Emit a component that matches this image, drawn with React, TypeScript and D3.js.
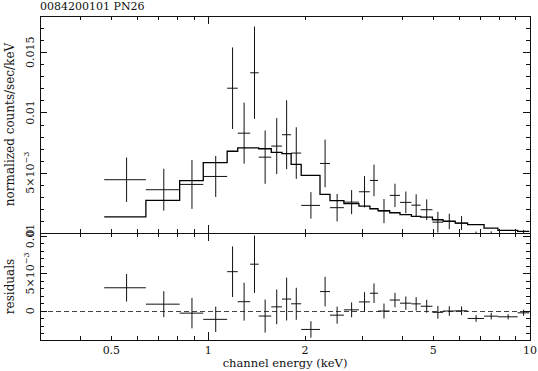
import React from 'react';
import * as d3 from 'd3';

// spectrum bins (keV)
const binEdges = [
  0.475, 0.64, 0.815, 0.965, 1.145, 1.235, 1.35, 1.435, 1.57, 1.695, 1.81, 1.945, 2.225, 2.39,
  2.64, 2.94, 3.18, 3.37, 3.665, 3.945, 4.28, 4.575, 4.975, 5.37, 5.855, 6.4, 7.2, 7.95, 9.155, 9.95,
];
const counts = [
  0.00442, 0.00359, 0.00403, 0.00469, 0.01201, 0.00828, 0.01329, 0.00629, 0.00721, 0.00815,
  0.00663, 0.00229, 0.00577, 0.0021, 0.00256, 0.00342, 0.00436, 0.00182, 0.00312, 0.00254,
  0.00231, 0.00193, 0.0009, 0.00096, 0.00082, -0.00033, -0.0003, -0.00058, -0.00014,
];
const countErrors = [
  0.00184, 0.00174, 0.00203, 0.0017, 0.00338, 0.00253, 0.00383, 0.00221, 0.00232, 0.00286,
  0.00214, 0.0011, 0.00198, 0.00114, 0.001, 0.0013, 0.00131, 0.001, 0.00097, 0.0009,
  0.0009, 0.00086, 0.00086, 0.00064, 0.00058, 0.00045, 0.00044, 0.00035, 0.0004,
];
const model = [
  0.00134, 0.0027, 0.00434, 0.00583, 0.00678, 0.00706, 0.00706, 0.00699, 0.00668, 0.00658,
  0.00569, 0.00478, 0.0032, 0.00268, 0.00243, 0.00223, 0.00201, 0.00185, 0.00168, 0.00152,
  0.00138, 0.00132, 0.0011, 0.00099, 0.00082, 0.00069, 0.00041, 0.00022, 0.00013,
];

const xMinor = [0.3, 0.4, 0.5, 0.6, 0.7, 0.8, 0.9, 2, 3, 4, 5, 6, 7, 8, 9];
const xMajor = [1, 10];
const xLabels = [0.5, 1, 2, 5, 10];

const FONT = 'DejaVu Serif';
const INK = '#111';

const left = 40, right = 530, top = 16, mid = 233, bottom = 340;

const x = d3.scaleLog().domain([0.3, 10]).range([left, right]);
const yTop = d3.scaleLinear().domain([0, 0.018]).range([mid, top]);
const yRes = d3.scaleLinear().domain([-0.0039, 0.0104]).range([bottom, mid]);

const bins = counts.map((c, i) => ({
  lo: binEdges[i],
  hi: binEdges[i + 1],
  e: (binEdges[i] + binEdges[i + 1]) / 2,
  c,
  err: countErrors[i],
  m: model[i],
  r: c - model[i],
}));

const Crosses = ({ y, key2 }: { y: d3.ScaleLinear<number, number>; key2: 'c' | 'r' }) => (
  <g stroke={INK} strokeWidth={1} fill="none">
    {bins.map((b, i) => (
      <g key={i}>
        <line x1={x(b.lo)} x2={x(b.hi)} y1={y(b[key2])} y2={y(b[key2])} />
        <line x1={x(b.e)} x2={x(b.e)} y1={y(b[key2] - b.err)} y2={y(b[key2] + b.err)} />
      </g>
    ))}
  </g>
);

const YTicks = ({ y, from, to }: { y: d3.ScaleLinear<number, number>; from: number; to: number }) => {
  const vals = d3.range(from, to + 1).map((k) => k / 1000);
  return (
    <g stroke={INK} strokeWidth={1} shapeRendering="crispEdges">
      {vals.map((v, i) => {
        const major = Math.round(v * 1000) % 5 === 0;
        const len = major ? 7 : 4;
        const yy = Math.round(y(v)) + 0.5;
        return (
          <g key={i}>
            <line x1={left} x2={left + len} y1={yy} y2={yy} />
            <line x1={right - len} x2={right} y1={yy} y2={yy} />
          </g>
        );
      })}
    </g>
  );
};

const XTicks = ({ y0, dir }: { y0: number; dir: number }) => (
  <g stroke={INK} strokeWidth={1} shapeRendering="crispEdges">
    {xMinor.map((v) => (
      <line key={'m' + v} x1={Math.round(x(v)) + 0.5} x2={Math.round(x(v)) + 0.5} y1={y0} y2={y0 + dir * 4} />
    ))}
    {xMajor.map((v) => (
      <line key={'M' + v} x1={Math.round(x(v)) + 0.5} x2={Math.round(x(v)) + 0.5} y1={y0} y2={y0 + dir * 8} />
    ))}
  </g>
);

const YLabel = ({ yy, children }: { yy: number; children: React.ReactNode }) => (
  <text transform={`translate(34,${yy}) rotate(-90)`} textAnchor="middle" fontFamily={FONT} fontSize={11} fill={INK}>
    {children}
  </text>
);

const FiveE3 = () => (
  <>
    5×10<tspan dy={-5} fontSize={8}>−3</tspan>
  </>
);

export default function App() {
  const stepPts = bins.map((b) => [x(b.lo), yTop(b.m)] as [number, number]);
  stepPts.push([x(bins[bins.length - 1].hi), yTop(bins[bins.length - 1].m)]);
  const stepLine = d3.line().curve(d3.curveStepAfter)(stepPts) || '';

  return (
    <svg width={538} height={371} style={{ position: 'absolute', left: 0, top: 0, background: '#fff' }}>
      <defs>
        <clipPath id="clipTop">
          <rect x={left} y={top} width={right - left} height={mid - top} />
        </clipPath>
        <clipPath id="clipRes">
          <rect x={left} y={mid} width={right - left} height={bottom - mid} />
        </clipPath>
      </defs>

      <text x={40} y={10} fontFamily={FONT} fontSize={11} fill={INK}>
        0084200101 PN26
      </text>

      {/* upper panel: data and folded model */}
      <g clipPath="url(#clipTop)">
        <Crosses y={yTop} key2="c" />
        <path d={stepLine} fill="none" stroke="#000" strokeWidth={1.3} />
      </g>

      {/* lower panel: residuals */}
      <g clipPath="url(#clipRes)">
        <line x1={left} x2={right} y1={Math.round(yRes(0)) + 0.5} y2={Math.round(yRes(0)) + 0.5} stroke="#444" strokeDasharray="5,3" />
        <Crosses y={yRes} key2="r" />
      </g>

      {/* frames and ticks */}
      <g fill="none" stroke={INK} strokeWidth={1} shapeRendering="crispEdges">
        <rect x={left + 0.5} y={top + 0.5} width={right - left} height={bottom - top} />
        <line x1={left} x2={right} y1={mid + 0.5} y2={mid + 0.5} />
      </g>
      <YTicks y={yTop} from={0} to={18} />
      <YTicks y={yRes} from={-3} to={10} />
      <XTicks y0={top} dir={1} />
      <XTicks y0={mid} dir={-1} />
      <XTicks y0={mid} dir={1} />
      <XTicks y0={bottom} dir={-1} />

      {/* y tick labels */}
      <YLabel yy={yTop(0.015)}>0.015</YLabel>
      <YLabel yy={yTop(0.01)}>0.01</YLabel>
      <YLabel yy={yTop(0.005)}><FiveE3 /></YLabel>
      <YLabel yy={yTop(0)}>0</YLabel>
      <YLabel yy={yRes(0.01)}>0.01</YLabel>
      <YLabel yy={yRes(0.005)}><FiveE3 /></YLabel>
      <YLabel yy={yRes(0)}>0</YLabel>

      {/* x tick labels */}
      {xLabels.map((v) => (
        <text key={v} x={x(v)} y={354} textAnchor="middle" fontFamily={FONT} fontSize={11} fill={INK}>
          {v}
        </text>
      ))}

      {/* axis titles */}
      <text x={(left + right) / 2} y={367} textAnchor="middle" fontFamily={FONT} fontSize={11.5} fill={INK}>
        channel energy (keV)
      </text>
      <text transform={`translate(14,${(top + mid) / 2}) rotate(-90)`} textAnchor="middle" fontFamily={FONT} fontSize={12} fill={INK}>
        normalized counts/sec/keV
      </text>
      <text transform={`translate(14,${(mid + bottom) / 2}) rotate(-90)`} textAnchor="middle" fontFamily={FONT} fontSize={12} fill={INK}>
        residuals
      </text>
    </svg>
  );
}
